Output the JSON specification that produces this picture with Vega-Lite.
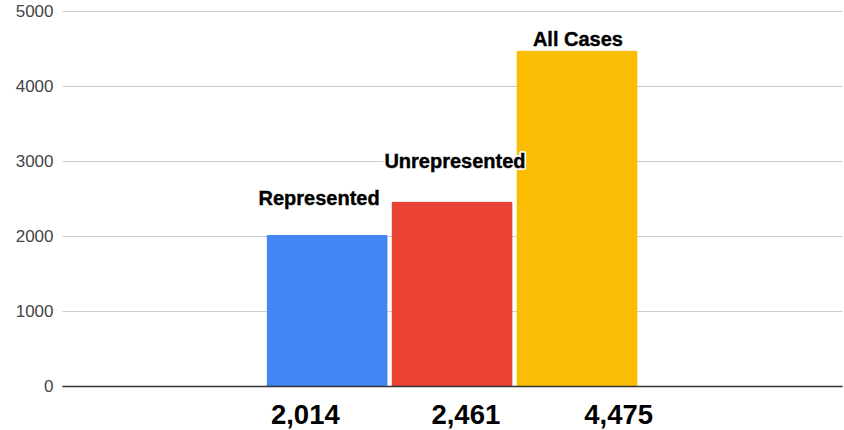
{
  "$schema": "https://vega.github.io/schema/vega-lite/v6.json",
  "width": 780,
  "height": 375,
  "autosize": {"type": "none"},
  "padding": {"left": 62, "top": 11, "right": 2, "bottom": 44},
  "background": "white",
  "config": {"view": {"stroke": null}},
  "data": {
    "values": [
      {"cat": "2,014\u00a0\u00a0\u00a0\u00a0\u00a0\u00a0\u00a0\u00a0\u00a0\u00a0\u00a0\u00a02,461\u00a0\u00a0\u00a0\u00a0\u00a0\u00a0\u00a0\u00a0\u00a0\u00a0\u00a04,475", "series": "Represented", "value": 2014},
      {"cat": "2,014\u00a0\u00a0\u00a0\u00a0\u00a0\u00a0\u00a0\u00a0\u00a0\u00a0\u00a0\u00a02,461\u00a0\u00a0\u00a0\u00a0\u00a0\u00a0\u00a0\u00a0\u00a0\u00a0\u00a04,475", "series": "Unrepresented", "value": 2461},
      {"cat": "2,014\u00a0\u00a0\u00a0\u00a0\u00a0\u00a0\u00a0\u00a0\u00a0\u00a0\u00a0\u00a02,461\u00a0\u00a0\u00a0\u00a0\u00a0\u00a0\u00a0\u00a0\u00a0\u00a0\u00a04,475", "series": "All Cases", "value": 4475}
    ]
  },
  "encoding": {
    "x": {
      "field": "cat",
      "type": "nominal",
      "scale": {"paddingOuter": 0.551, "paddingInner": 0},
      "axis": {
        "title": null,
        "labelAngle": 0,
        "ticks": false,
        "domain": true,
        "domainColor": "#333333",
        "domainWidth": 1.5,
        "labelFont": "Liberation Sans",
        "labelFontSize": 27.5,
        "labelFontWeight": "bold",
        "labelColor": "#000000",
        "labelPadding": 15,
        "labelOffset": 10,
        "labelLimit": 0,
        "zindex": 1
      }
    },
    "xOffset": {
      "field": "series",
      "type": "nominal",
      "sort": ["Represented", "Unrepresented", "All Cases"],
      "scale": {"paddingInner": 0.03, "paddingOuter": 0}
    },
    "y": {
      "field": "value",
      "type": "quantitative",
      "scale": {"domain": [0, 5000], "nice": false},
      "axis": {
        "title": null,
        "values": [0, 1000, 2000, 3000, 4000, 5000],
        "format": "d",
        "grid": true,
        "gridColor": "#cccccc",
        "gridWidth": 1,
        "domain": false,
        "ticks": false,
        "labelFont": "Liberation Sans",
        "labelFontSize": 17,
        "labelColor": "#444444",
        "labelPadding": 9
      }
    }
  },
  "layer": [
    {
      "mark": {"type": "bar", "cornerRadiusTopLeft": 2, "cornerRadiusTopRight": 2},
      "encoding": {
        "color": {
          "field": "series",
          "type": "nominal",
          "scale": {"domain": ["Represented", "Unrepresented", "All Cases"], "range": ["#4285F4", "#EA4335", "#FBBC04"]},
          "legend": null
        }
      }
    },
    {
      "mark": {
        "type": "text",
        "font": "Liberation Sans",
        "fontSize": 20,
        "fontWeight": "bold",
        "baseline": "alphabetic",
        "fill": "white",
        "stroke": "white",
        "strokeWidth": 4,
        "strokeJoin": "round",
        "dx": {"expr": "datum.series === 'Represented' ? -8 : (datum.series === 'Unrepresented' ? 3 : 1)"},
        "dy": {"expr": "datum.series === 'All Cases' ? -4 : (datum.series === 'Unrepresented' ? -33 : -30)"}
      },
      "encoding": {"text": {"field": "series"}}
    },
    {
      "mark": {
        "type": "text",
        "font": "Liberation Sans",
        "fontSize": 20,
        "fontWeight": "bold",
        "baseline": "alphabetic",
        "fill": "black",
        "stroke": "black",
        "strokeWidth": 0.4,
        "dx": {"expr": "datum.series === 'Represented' ? -8 : (datum.series === 'Unrepresented' ? 3 : 1)"},
        "dy": {"expr": "datum.series === 'All Cases' ? -4 : (datum.series === 'Unrepresented' ? -33 : -30)"}
      },
      "encoding": {"text": {"field": "series"}}
    }
  ]
}
